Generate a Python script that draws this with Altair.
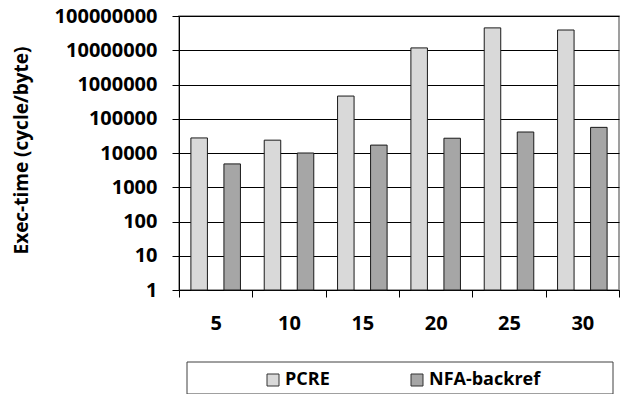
import altair as alt
import pandas as pd

categories = ["5", "10", "15", "20", "25", "30"]
series = ["PCRE", "NFA-backref"]
pcre = [27500, 23700, 460000, 11700000, 45000000, 39000000]
nfa = [4800, 10000, 17000, 27000, 41000, 56000]
y_ticks = [1, 10, 100, 1000, 10000, 100000, 1000000, 10000000, 100000000]
colors = ["#d9d9d9", "#a6a6a6"]

rows = []
for i, c in enumerate(categories):
    rows.append({"len": c, "series": "PCRE", "value": pcre[i]})
    rows.append({"len": c, "series": "NFA-backref", "value": nfa[i]})
df = pd.DataFrame(rows)

FONT = "Open Sans"
TOP = 8
H = 274

box = alt.Chart(pd.DataFrame({"k": [0]})).mark_rect(
    fill="white", stroke="#404040", strokeWidth=1
).encode(
    x=alt.value(8), x2=alt.value(434), y=alt.value(H + 72), y2=alt.value(H + 104)
)

bars = alt.Chart(df).mark_bar(stroke="#1a1a1a", strokeWidth=1).encode(
    x=alt.X(
        "len:N", sort=categories,
        scale=alt.Scale(paddingInner=0, paddingOuter=0),
        axis=alt.Axis(
            title=None, tickBand="extent", tickSize=7, labelAngle=0,
            labelFont=FONT, labelFontSize=20, labelFontWeight="bold",
            labelColor="black", labelPadding=16, domainColor="black",
            tickColor="black", grid=False,
        ),
    ),
    xOffset=alt.XOffset(
        "series:N", sort=series,
        scale=alt.Scale(paddingInner=0.5, paddingOuter=0.36),
    ),
    y=alt.Y(
        "value:Q", stack=None,
        scale=alt.Scale(type="log", domain=[1, 100000000], nice=False),
        axis=alt.Axis(
            values=y_ticks, format="d", title="Exec-time (cycle/byte)",
            tickSize=7, labelFont=FONT, labelFontSize=20, labelFontWeight="bold",
            labelColor="black", labelPadding=15, domainColor="black",
            tickColor="black", grid=True, gridColor="black", gridWidth=1,
            titleFont=FONT, titleFontSize=19, titleFontWeight="bold",
            titleColor="black", titleX=-158, titleY=H / 2 - 3, titleAngle=270,
            titleAlign="center", titleBaseline="middle",
        ),
    ),
    color=alt.Color(
        "series:N", sort=series,
        scale=alt.Scale(domain=series, range=colors),
        legend=alt.Legend(
            title=None, orient="none", direction="horizontal",
            legendX=85, legendY=H + 81, padding=0,
            symbolType="square", symbolSize=144, symbolStrokeColor="#333333",
            symbolStrokeWidth=1, labelFont=FONT, labelFontSize=18,
            labelFontWeight="bold", labelColor="black", labelOffset=3,
            columnPadding=78,
        ),
    ),
)

chart = alt.layer(box, bars).properties(
    width=440, height=H,
    autosize=alt.AutoSizeParams(type="none"),
    padding={"left": 171, "top": TOP, "right": 1, "bottom": 104},
).configure_view(stroke="#808080", strokeWidth=1.5)

chart.save("out.html", embed_options={"renderer": "svg", "actions": False})
